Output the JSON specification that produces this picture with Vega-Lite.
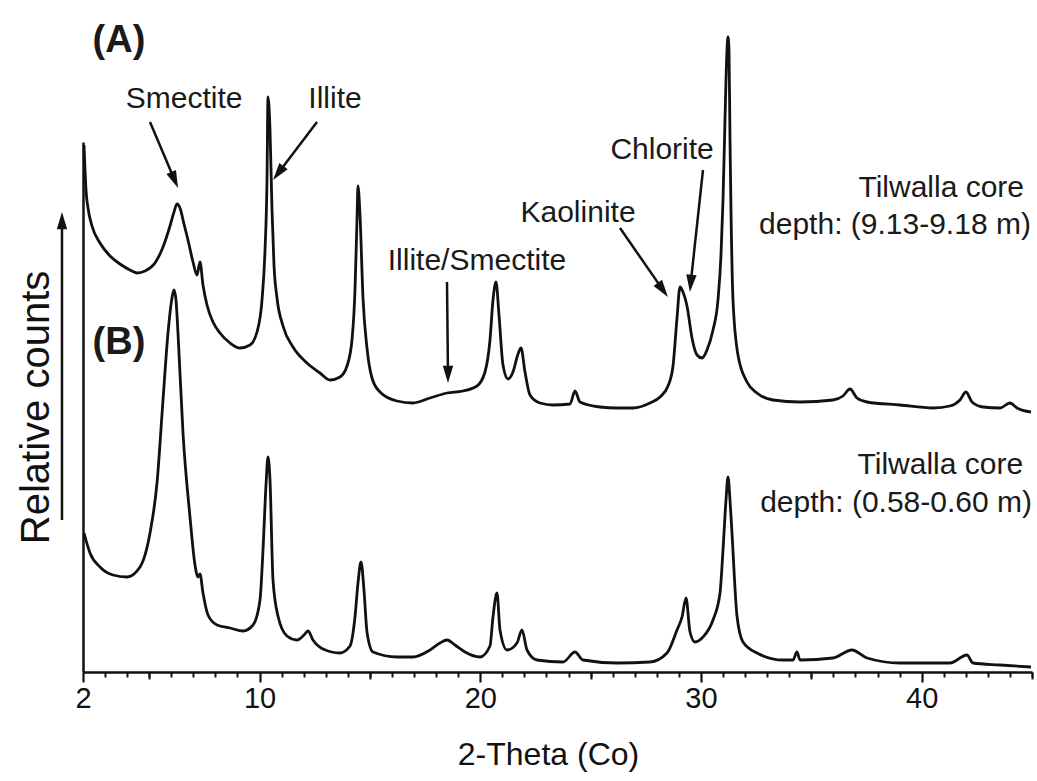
{
  "$schema": "https://vega.github.io/schema/vega-lite/v6.json",
  "width": 949,
  "height": 530,
  "autosize": {"type": "none"},
  "padding": {"left": 83, "top": 142, "right": 5, "bottom": 109},
  "background": "white",
  "config": {"view": {"stroke": null}, "font": "Liberation Sans", "axis": {"grid": false}},
  "datasets": {
    "xrd": [
      {"sample":"A","theta":2.045,"counts":527},{"sample":"A","theta":2.091,"counts":502},{"sample":"A","theta":2.136,"counts":482},{"sample":"A","theta":2.227,"counts":464},{"sample":"A","theta":2.408,"counts":446},{"sample":"A","theta":2.770,"counts":429},{"sample":"A","theta":3.223,"counts":416},{"sample":"A","theta":3.676,"counts":408},{"sample":"A","theta":4.130,"counts":402},{"sample":"A","theta":4.447,"counts":399},{"sample":"A","theta":4.809,"counts":401},{"sample":"A","theta":5.262,"counts":409},{"sample":"A","theta":5.625,"counts":425},{"sample":"A","theta":5.942,"counts":446},{"sample":"A","theta":6.123,"counts":460},{"sample":"A","theta":6.259,"counts":468},{"sample":"A","theta":6.395,"counts":464},{"sample":"A","theta":6.576,"counts":448},{"sample":"A","theta":6.757,"counts":432},{"sample":"A","theta":6.984,"counts":410},{"sample":"A","theta":7.165,"counts":397},{"sample":"A","theta":7.301,"counts":410},{"sample":"A","theta":7.437,"counts":387},{"sample":"A","theta":7.618,"counts":367},{"sample":"A","theta":7.890,"counts":350},{"sample":"A","theta":8.207,"counts":339},{"sample":"A","theta":8.661,"counts":329},{"sample":"A","theta":9.114,"counts":324},{"sample":"A","theta":9.567,"counts":327},{"sample":"A","theta":9.884,"counts":340},{"sample":"A","theta":10.111,"counts":372},{"sample":"A","theta":10.247,"counts":422},{"sample":"A","theta":10.337,"counts":492},{"sample":"A","theta":10.382,"counts":575},{"sample":"A","theta":10.473,"counts":542},{"sample":"A","theta":10.564,"counts":462},{"sample":"A","theta":10.654,"counts":407},{"sample":"A","theta":10.790,"counts":374},{"sample":"A","theta":11.062,"counts":346},{"sample":"A","theta":11.515,"counts":325},{"sample":"A","theta":12.149,"counts":309},{"sample":"A","theta":12.738,"counts":299},{"sample":"A","theta":13.192,"counts":292},{"sample":"A","theta":13.645,"counts":295},{"sample":"A","theta":13.962,"counts":306},{"sample":"A","theta":14.188,"counts":332},{"sample":"A","theta":14.324,"counts":382},{"sample":"A","theta":14.415,"counts":452},{"sample":"A","theta":14.460,"counts":486},{"sample":"A","theta":14.551,"counts":457},{"sample":"A","theta":14.687,"counts":374},{"sample":"A","theta":14.868,"counts":324},{"sample":"A","theta":15.094,"counts":294},{"sample":"A","theta":15.457,"counts":280},{"sample":"A","theta":16.227,"counts":271},{"sample":"A","theta":16.952,"counts":269},{"sample":"A","theta":17.722,"counts":274},{"sample":"A","theta":18.493,"counts":279},{"sample":"A","theta":19.218,"counts":281},{"sample":"A","theta":19.852,"counts":286},{"sample":"A","theta":20.214,"counts":300},{"sample":"A","theta":20.441,"counts":332},{"sample":"A","theta":20.577,"counts":372},{"sample":"A","theta":20.713,"counts":390},{"sample":"A","theta":20.849,"counts":357},{"sample":"A","theta":21.030,"counts":307},{"sample":"A","theta":21.257,"counts":293},{"sample":"A","theta":21.483,"counts":300},{"sample":"A","theta":21.710,"counts":318},{"sample":"A","theta":21.846,"counts":324},{"sample":"A","theta":22.027,"counts":300},{"sample":"A","theta":22.254,"counts":277},{"sample":"A","theta":22.707,"counts":269},{"sample":"A","theta":23.296,"counts":267},{"sample":"A","theta":24.066,"counts":268},{"sample":"A","theta":24.293,"counts":281},{"sample":"A","theta":24.519,"counts":270},{"sample":"A","theta":25.426,"counts":265},{"sample":"A","theta":26.196,"counts":264},{"sample":"A","theta":26.921,"counts":264},{"sample":"A","theta":27.691,"counts":269},{"sample":"A","theta":28.144,"counts":275},{"sample":"A","theta":28.507,"counts":286},{"sample":"A","theta":28.734,"counts":306},{"sample":"A","theta":28.915,"counts":354},{"sample":"A","theta":29.051,"counts":385},{"sample":"A","theta":29.187,"counts":380},{"sample":"A","theta":29.368,"counts":366},{"sample":"A","theta":29.594,"counts":334},{"sample":"A","theta":29.821,"counts":317},{"sample":"A","theta":30.047,"counts":314},{"sample":"A","theta":30.274,"counts":322},{"sample":"A","theta":30.546,"counts":342},{"sample":"A","theta":30.772,"counts":372},{"sample":"A","theta":30.908,"counts":417},{"sample":"A","theta":30.999,"counts":472},{"sample":"A","theta":31.089,"counts":552},{"sample":"A","theta":31.180,"counts":622},{"sample":"A","theta":31.225,"counts":635},{"sample":"A","theta":31.271,"counts":622},{"sample":"A","theta":31.316,"counts":532},{"sample":"A","theta":31.361,"counts":462},{"sample":"A","theta":31.452,"counts":372},{"sample":"A","theta":31.678,"counts":317},{"sample":"A","theta":32.086,"counts":290},{"sample":"A","theta":32.539,"counts":279},{"sample":"A","theta":33.264,"counts":272},{"sample":"A","theta":34.487,"counts":270},{"sample":"A","theta":35.982,"counts":272},{"sample":"A","theta":36.435,"counts":276},{"sample":"A","theta":36.753,"counts":283},{"sample":"A","theta":37.070,"counts":274},{"sample":"A","theta":37.523,"counts":270},{"sample":"A","theta":39.018,"counts":267},{"sample":"A","theta":40.514,"counts":264},{"sample":"A","theta":41.284,"counts":266},{"sample":"A","theta":41.737,"counts":272},{"sample":"A","theta":42.009,"counts":280},{"sample":"A","theta":42.281,"counts":270},{"sample":"A","theta":42.779,"counts":265},{"sample":"A","theta":43.549,"counts":264},{"sample":"A","theta":44.002,"counts":269},{"sample":"A","theta":44.320,"counts":264},{"sample":"A","theta":44.954,"counts":260},
      {"sample":"B","theta":2.045,"counts":139},{"sample":"B","theta":2.317,"counts":119},{"sample":"B","theta":2.770,"counts":105},{"sample":"B","theta":3.359,"counts":97},{"sample":"B","theta":3.994,"counts":95},{"sample":"B","theta":4.583,"counts":105},{"sample":"B","theta":5.036,"counts":139},{"sample":"B","theta":5.353,"counts":189},{"sample":"B","theta":5.625,"counts":272},{"sample":"B","theta":5.851,"counts":339},{"sample":"B","theta":6.033,"counts":374},{"sample":"B","theta":6.123,"counts":382},{"sample":"B","theta":6.214,"counts":372},{"sample":"B","theta":6.304,"counts":339},{"sample":"B","theta":6.531,"counts":239},{"sample":"B","theta":6.848,"counts":155},{"sample":"B","theta":7.075,"counts":107},{"sample":"B","theta":7.211,"counts":95},{"sample":"B","theta":7.301,"counts":98},{"sample":"B","theta":7.437,"counts":79},{"sample":"B","theta":7.664,"counts":57},{"sample":"B","theta":8.072,"counts":47},{"sample":"B","theta":8.661,"counts":44},{"sample":"B","theta":9.250,"counts":41},{"sample":"B","theta":9.703,"counts":47},{"sample":"B","theta":10.020,"counts":72},{"sample":"B","theta":10.156,"counts":122},{"sample":"B","theta":10.292,"counts":187},{"sample":"B","theta":10.382,"counts":215},{"sample":"B","theta":10.473,"counts":192},{"sample":"B","theta":10.609,"counts":92},{"sample":"B","theta":10.835,"counts":56},{"sample":"B","theta":11.243,"counts":36},{"sample":"B","theta":11.696,"counts":32},{"sample":"B","theta":12.014,"counts":37},{"sample":"B","theta":12.195,"counts":41},{"sample":"B","theta":12.421,"counts":32},{"sample":"B","theta":12.875,"counts":23},{"sample":"B","theta":13.645,"counts":19},{"sample":"B","theta":14.098,"counts":26},{"sample":"B","theta":14.324,"counts":55},{"sample":"B","theta":14.460,"counts":89},{"sample":"B","theta":14.596,"counts":110},{"sample":"B","theta":14.732,"counts":82},{"sample":"B","theta":14.868,"counts":40},{"sample":"B","theta":15.140,"counts":20},{"sample":"B","theta":16.227,"counts":15},{"sample":"B","theta":16.952,"counts":15},{"sample":"B","theta":17.722,"counts":22},{"sample":"B","theta":18.175,"counts":29},{"sample":"B","theta":18.493,"counts":32},{"sample":"B","theta":18.855,"counts":27},{"sample":"B","theta":19.308,"counts":20},{"sample":"B","theta":19.988,"counts":15},{"sample":"B","theta":20.441,"counts":26},{"sample":"B","theta":20.577,"counts":55},{"sample":"B","theta":20.758,"counts":79},{"sample":"B","theta":20.894,"counts":42},{"sample":"B","theta":21.211,"counts":22},{"sample":"B","theta":21.665,"counts":29},{"sample":"B","theta":21.891,"counts":42},{"sample":"B","theta":22.118,"counts":22},{"sample":"B","theta":22.571,"counts":12},{"sample":"B","theta":23.749,"counts":10},{"sample":"B","theta":24.293,"counts":20},{"sample":"B","theta":24.655,"counts":12},{"sample":"B","theta":26.196,"counts":9},{"sample":"B","theta":27.691,"counts":10},{"sample":"B","theta":28.462,"counts":19},{"sample":"B","theta":28.915,"counts":42},{"sample":"B","theta":29.142,"counts":55},{"sample":"B","theta":29.323,"counts":74},{"sample":"B","theta":29.504,"counts":40},{"sample":"B","theta":29.730,"counts":30},{"sample":"B","theta":30.093,"counts":35},{"sample":"B","theta":30.546,"counts":52},{"sample":"B","theta":30.863,"counts":79},{"sample":"B","theta":30.999,"counts":122},{"sample":"B","theta":31.135,"counts":172},{"sample":"B","theta":31.225,"counts":195},{"sample":"B","theta":31.316,"counts":172},{"sample":"B","theta":31.406,"counts":139},{"sample":"B","theta":31.633,"counts":56},{"sample":"B","theta":31.905,"counts":30},{"sample":"B","theta":32.539,"counts":19},{"sample":"B","theta":33.717,"counts":12},{"sample":"B","theta":34.170,"counts":12},{"sample":"B","theta":34.351,"counts":20},{"sample":"B","theta":34.487,"counts":12},{"sample":"B","theta":35.982,"counts":14},{"sample":"B","theta":36.843,"counts":22},{"sample":"B","theta":37.523,"counts":14},{"sample":"B","theta":39.018,"counts":9},{"sample":"B","theta":41.284,"counts":9},{"sample":"B","theta":42.054,"counts":17},{"sample":"B","theta":42.326,"counts":9},{"sample":"B","theta":43.549,"counts":7},{"sample":"B","theta":44.954,"counts":5}
    ],
    "tags": [
      {"label":"(A)","theta":3.63,"counts":631},
      {"label":"(B)","theta":3.63,"counts":329}
    ],
    "minerals": [
      {"label":"Smectite","theta":6.58,"counts":573},
      {"label":"Illite","theta":13.42,"counts":573},
      {"label":"Illite/Smectite","theta":19.85,"counts":411},
      {"label":"Kaolinite","theta":24.43,"counts":459},
      {"label":"Chlorite","theta":28.24,"counts":522}
    ],
    "samples": [
      {"label":"Tilwalla core","theta":44.64,"counts":484},
      {"label":"depth: (9.13-9.18 m)","theta":44.95,"counts":447},
      {"label":"Tilwalla core","theta":44.60,"counts":207},
      {"label":"depth: (0.58-0.60 m)","theta":45.0,"counts":169}
    ],
    "arrows": [
      {"target":"Smectite","theta":5.036,"counts":550,"theta2":6.150,"counts2":492,"angle":157},
      {"target":"Illite","theta":12.603,"counts":550,"theta2":10.849,"counts2":498.9,"angle":217},
      {"target":"Illite/Smectite","theta":18.493,"counts":390,"theta2":18.538,"counts2":297.7,"angle":180},
      {"target":"Kaolinite","theta":26.332,"counts":444,"theta2":28.275,"counts2":382.1,"angle":144},
      {"target":"Chlorite","theta":30.092,"counts":502,"theta2":29.535,"counts2":388.7,"angle":185},
      {"target":"Relative counts","theta":1.048,"counts":152,"theta2":1.048,"counts2":451.3,"angle":0}
    ]
  },
  "resolve": {"axis": {"x": "independent", "y": "shared"}},
  "layer": [
    {
      "data": {"name": "xrd"},
      "mark": {"type": "line", "color": "#111111", "strokeWidth": 2.8, "strokeJoin": "round", "interpolate": "monotone"},
      "encoding": {
        "x": {"field": "theta", "type": "quantitative",
              "scale": {"domain": [2, 45], "nice": false, "zero": false},
              "axis": {"orient": "bottom", "values": [2, 10, 20, 30, 40], "title": "2-Theta (Co)",
                       "domainColor": "#111111", "domainWidth": 2.5, "tickColor": "#111111", "tickWidth": 2.2, "tickSize": 10,
                       "labelFontSize": 29, "labelColor": "#111111", "labelFlush": false, "labelOverlap": false, "labelPadding": 2,
                       "titleFontSize": 32, "titleFontWeight": "normal", "titleColor": "#111111", "titlePadding": 26, "titleX": 465}},
        "y": {"field": "counts", "type": "quantitative",
              "scale": {"domain": [0, 530], "nice": false, "zero": false},
              "axis": {"orient": "left", "title": "Relative  counts", "ticks": false, "labels": false, "domain": true,
                       "domainColor": "#111111", "domainWidth": 2.5,
                       "titleFontSize": 40, "titleFontWeight": "normal", "titleColor": "#111111", "titlePadding": 27}},
        "detail": {"field": "sample", "type": "nominal"}
      }
    },
    {
      "data": {"name": "minerals"},
      "mark": {"type": "text", "fontSize": 30, "align": "center", "baseline": "middle", "color": "#1a1a1a"},
      "encoding": {
        "x": {"field": "theta", "type": "quantitative",
              "axis": {"orient": "bottom", "values": [3,4,5,6,7,8,9,11,12,13,14,15,16,17,18,19,21,22,23,24,25,26,27,28,29,31,32,33,34,35,36,37,38,39,41,42,43,44,45],
                       "labels": false, "domain": false, "title": null, "tickColor": "#111111", "tickWidth": 2, "tickSize": 5}},
        "y": {"field": "counts", "type": "quantitative"},
        "text": {"field": "label"}
      }
    },
    {
      "data": {"name": "tags"},
      "mark": {"type": "text", "fontSize": 38, "fontWeight": "bold", "align": "center", "baseline": "middle", "color": "#1a1a1a"},
      "encoding": {
        "x": {"field": "theta", "type": "quantitative",
              "axis": {"orient": "bottom", "values": [5, 15, 25, 35, 45],
                       "labels": false, "domain": false, "title": null, "tickColor": "#111111", "tickWidth": 2, "tickSize": 7}},
        "y": {"field": "counts", "type": "quantitative"},
        "text": {"field": "label"}
      }
    },
    {
      "data": {"name": "samples"},
      "mark": {"type": "text", "fontSize": 30, "align": "right", "baseline": "middle", "color": "#1a1a1a"},
      "encoding": {
        "x": {"field": "theta", "type": "quantitative", "axis": null},
        "y": {"field": "counts", "type": "quantitative"},
        "text": {"field": "label"}
      }
    },
    {
      "data": {"name": "arrows"},
      "mark": {"type": "rule", "color": "#111111", "strokeWidth": 2.5},
      "encoding": {
        "x": {"field": "theta", "type": "quantitative", "axis": null},
        "y": {"field": "counts", "type": "quantitative"},
        "x2": {"field": "theta2"},
        "y2": {"field": "counts2"}
      }
    },
    {
      "data": {"name": "arrows"},
      "mark": {"type": "point", "shape": "M0,-1L0.6,1L-0.6,1Z", "filled": true, "size": 300, "color": "#111111", "opacity": 1},
      "encoding": {
        "x": {"field": "theta2", "type": "quantitative", "axis": null},
        "y": {"field": "counts2", "type": "quantitative", "title": "Relative  counts"},
        "angle": {"field": "angle", "type": "quantitative", "scale": null}
      }
    }
  ]
}
